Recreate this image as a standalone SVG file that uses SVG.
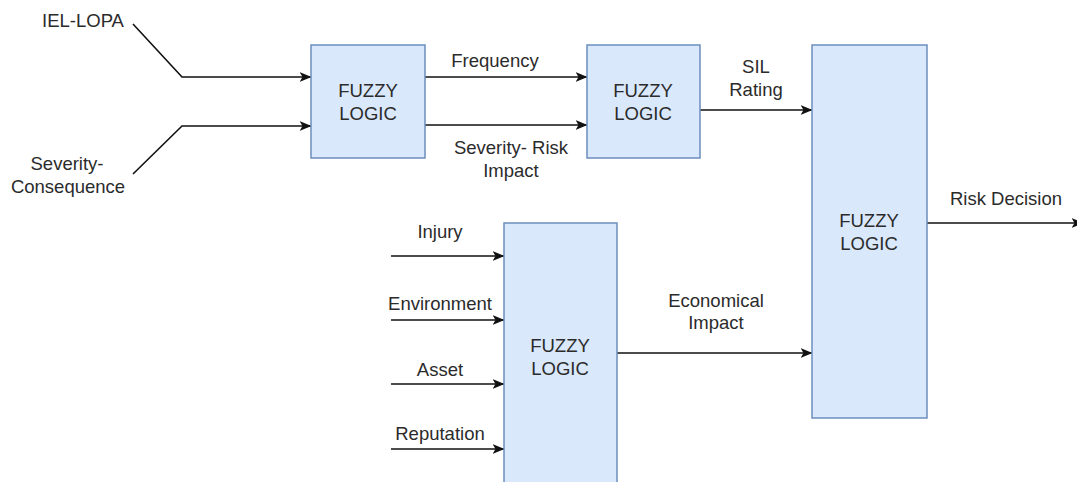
<svg xmlns="http://www.w3.org/2000/svg" width="1077" height="482" viewBox="0 0 1077 482">
  <defs>
    <style>
      .box { fill: #dae8fc; stroke: #6c8ebf; stroke-width: 1.5; }
      .lbl { font-family: "Liberation Sans", Arial, sans-serif; font-size: 18.5px; fill: #2b2b2b; text-anchor: middle; }
      .wire { fill: none; stroke: #111; stroke-width: 1.6; }
    </style>
    <marker id="arrow" viewBox="0 0 12 10" refX="11.5" refY="5" markerWidth="12" markerHeight="10" markerUnits="userSpaceOnUse" orient="auto">
      <path d="M0,0 L12,5 L0,10 L3,5 Z" fill="#111"/>
    </marker>
  </defs>
  <rect width="1077" height="482" fill="#ffffff"/>

  <!-- connectors -->
  <g id="connectors">
    <path class="wire" d="M133,24 L182,77 L311,77" marker-end="url(#arrow)"/>
    <path class="wire" d="M133,174 L182,126 L311,126" marker-end="url(#arrow)"/>
    <path class="wire" d="M425,77 L587,77" marker-end="url(#arrow)"/>
    <path class="wire" d="M425,125 L587,125" marker-end="url(#arrow)"/>
    <path class="wire" d="M700,110 L812,110" marker-end="url(#arrow)"/>
    <path class="wire" d="M927,223 L1083,223" marker-end="url(#arrow)"/>
    <path class="wire" d="M391,256 L504,256" marker-end="url(#arrow)"/>
    <path class="wire" d="M391,320 L504,320" marker-end="url(#arrow)"/>
    <path class="wire" d="M391,384 L504,384" marker-end="url(#arrow)"/>
    <path class="wire" d="M391,449 L504,449" marker-end="url(#arrow)"/>
    <path class="wire" d="M617,353 L812,353" marker-end="url(#arrow)"/>

    <!-- connector labels -->
    <text class="lbl" x="83" y="27">IEL-LOPA</text>
    <text class="lbl" x="67" y="170">Severity-</text>
    <text class="lbl" x="68" y="193">Consequence</text>
    <text class="lbl" x="495" y="67">Frequency</text>
    <text class="lbl" x="511" y="154">Severity- Risk</text>
    <text class="lbl" x="511" y="177">Impact</text>
    <text class="lbl" x="756" y="73">SIL</text>
    <text class="lbl" x="756" y="96">Rating</text>
    <text class="lbl" x="1006" y="205">Risk Decision</text>
    <text class="lbl" x="440" y="238">Injury</text>
    <text class="lbl" x="440" y="310">Environment</text>
    <text class="lbl" x="440" y="376">Asset</text>
    <text class="lbl" x="440" y="440">Reputation</text>
    <text class="lbl" x="716" y="307">Economical</text>
    <text class="lbl" x="716" y="329">Impact</text>
  </g>

  <!-- fuzzy logic blocks -->
  <g id="fuzzy1">
    <rect class="box" x="311" y="45" width="114" height="113"/>
    <text class="lbl" x="368" y="97">FUZZY</text>
    <text class="lbl" x="368" y="120">LOGIC</text>
  </g>
  <g id="fuzzy2">
    <rect class="box" x="587" y="45" width="113" height="113"/>
    <text class="lbl" x="643" y="97">FUZZY</text>
    <text class="lbl" x="643" y="120">LOGIC</text>
  </g>
  <g id="fuzzy3">
    <rect class="box" x="812" y="45" width="115" height="373"/>
    <text class="lbl" x="869" y="227">FUZZY</text>
    <text class="lbl" x="869" y="250">LOGIC</text>
  </g>
  <g id="fuzzy4">
    <rect class="box" x="504" y="223" width="113" height="270"/>
    <text class="lbl" x="560" y="352">FUZZY</text>
    <text class="lbl" x="560" y="375">LOGIC</text>
  </g>
</svg>
